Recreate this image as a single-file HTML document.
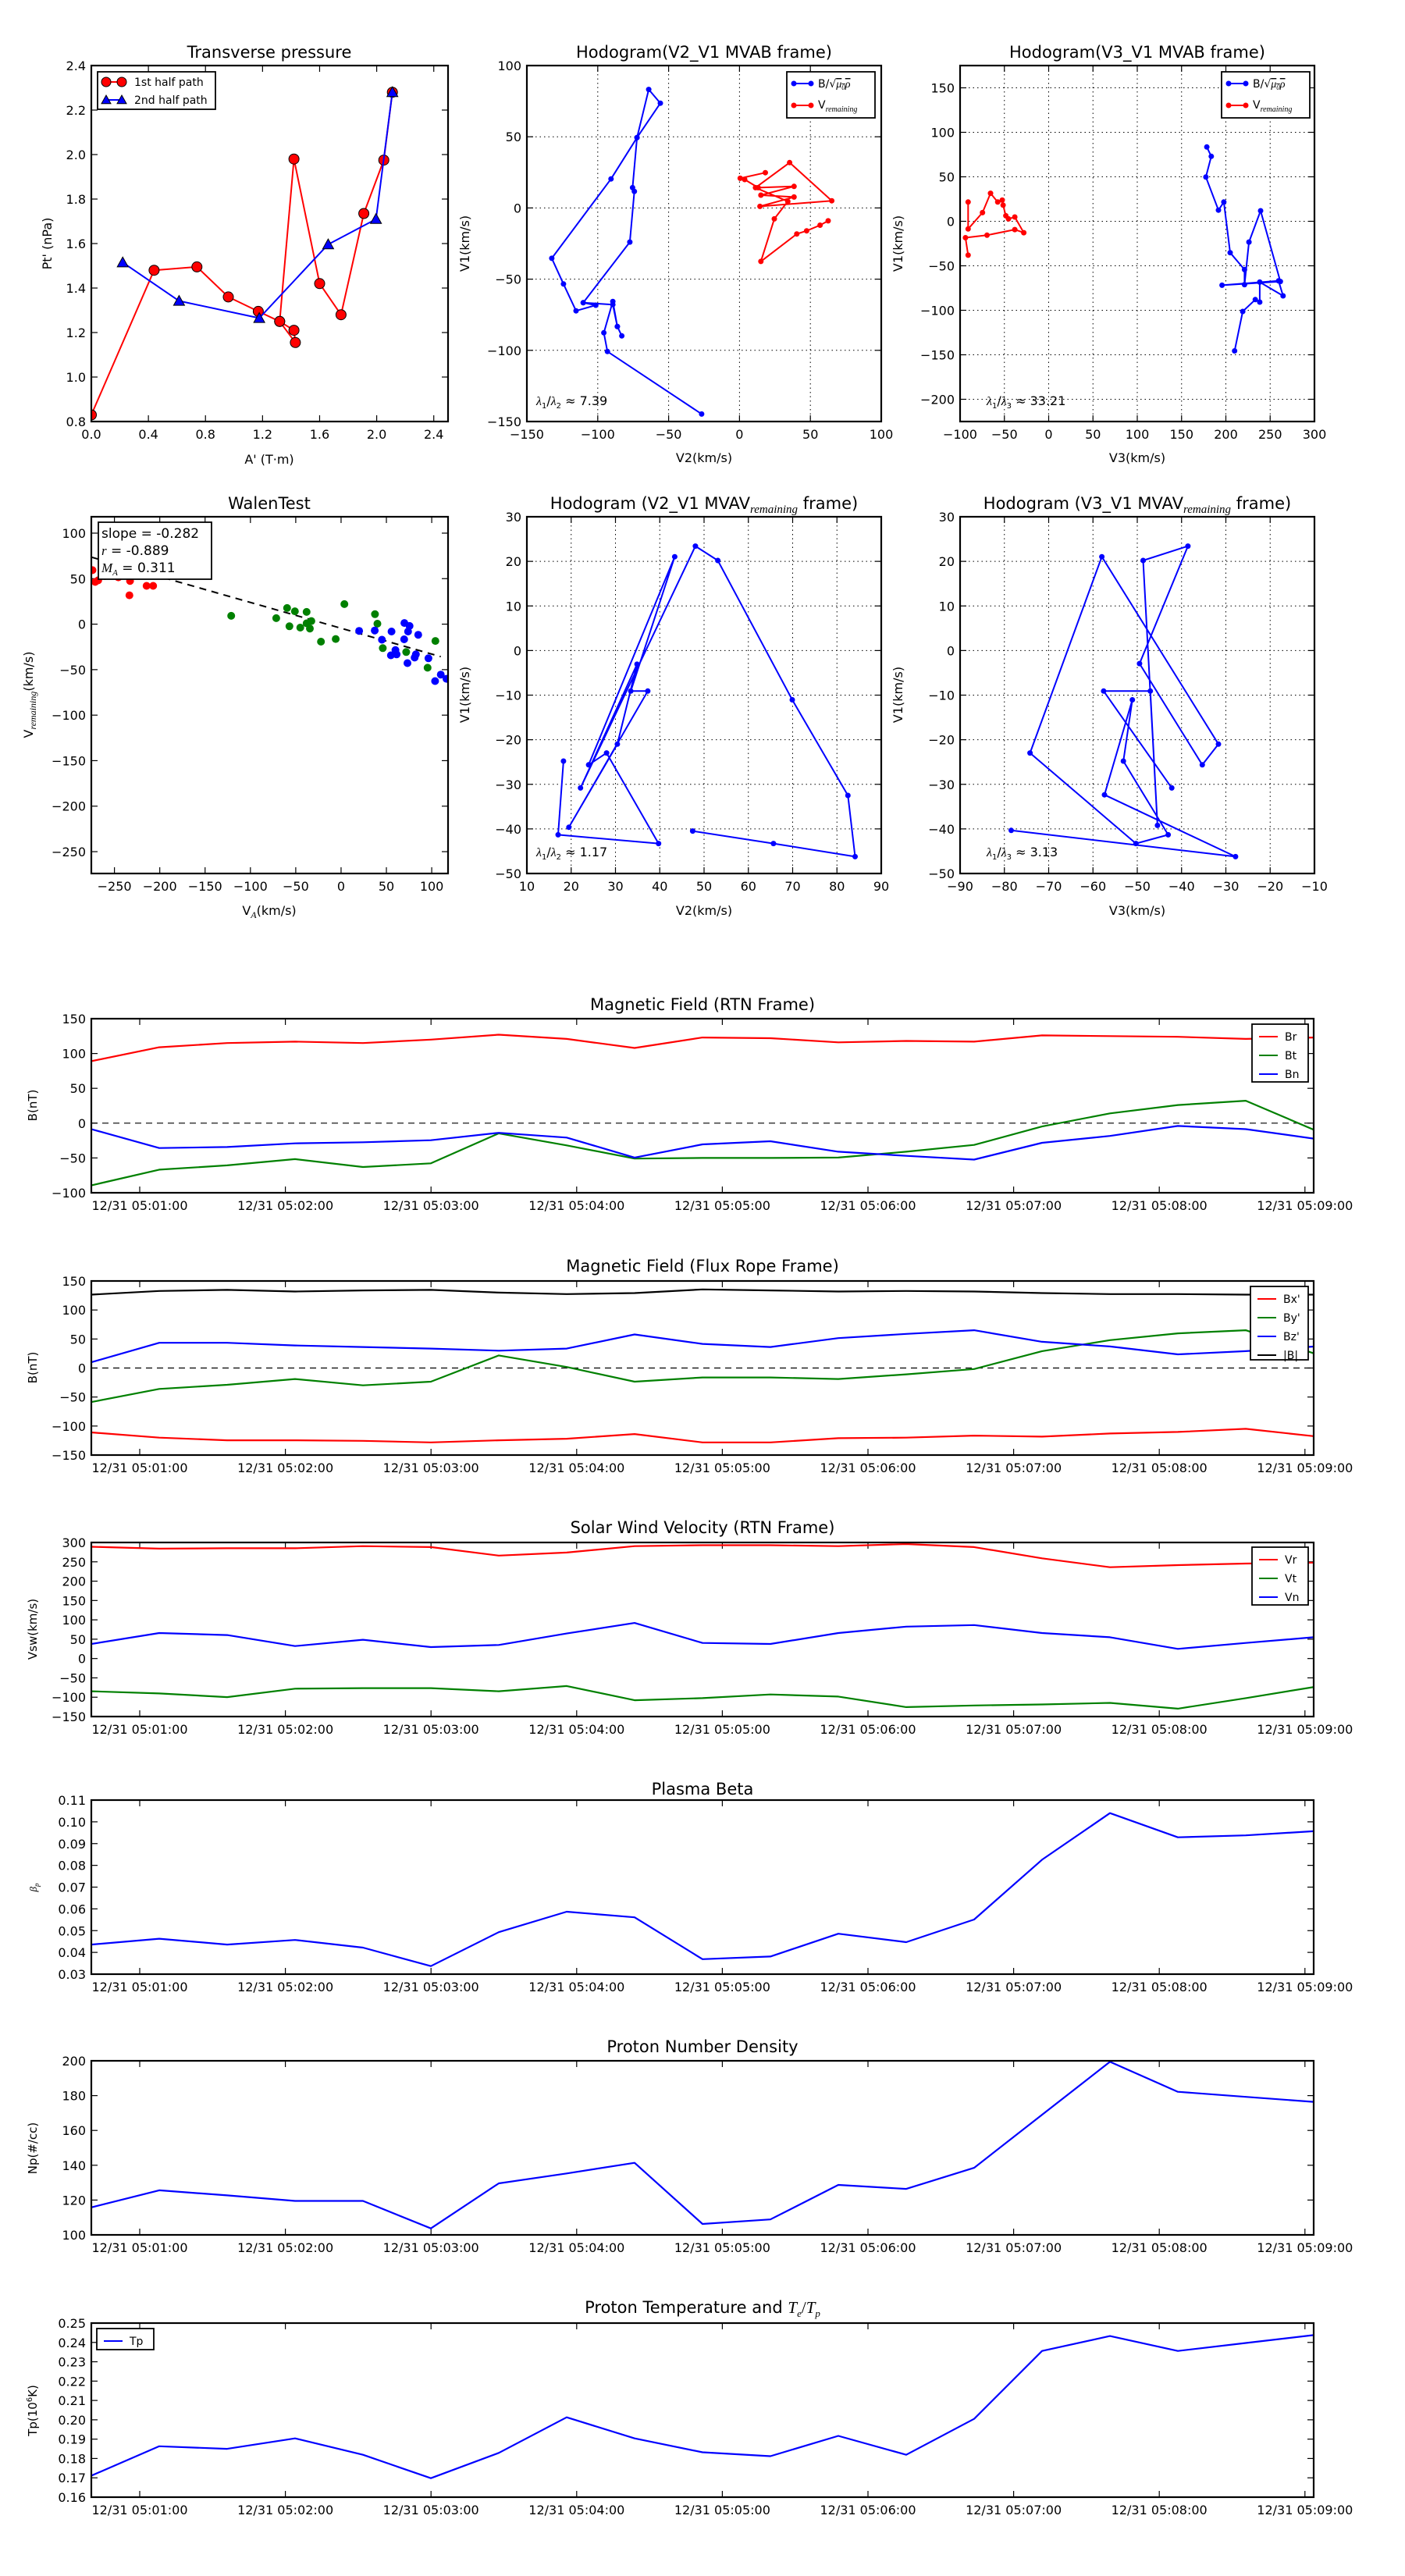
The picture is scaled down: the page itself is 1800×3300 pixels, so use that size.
<!DOCTYPE html>
<html><head><meta charset="utf-8">
<style>html,body{margin:0;padding:0;background:#fff;}svg{display:block;}</style>
</head><body>
<svg id="s" xmlns="http://www.w3.org/2000/svg" width="1800" height="3300" viewBox="0 0 1800 3300" font-family="DejaVu Sans, Liberation Sans, sans-serif">
<rect width="1800" height="3300" fill="#fff"/>
<g font-size="21" text-anchor="middle" fill="#000">
<text x="345" y="74">Transverse pressure</text>
<text x="902" y="74">Hodogram(V2_V1 MVAB frame)</text>
<text x="1457" y="74">Hodogram(V3_V1 MVAB frame)</text>
<text x="345" y="652">WalenTest</text>
<text x="902" y="652">Hodogram (V2_V1 MVAV<tspan font-family="Liberation Serif" font-style="italic" font-size="15" dy="5">remaining</tspan><tspan dy="-5"> frame)</tspan></text>
<text x="1457" y="652">Hodogram (V3_V1 MVAV<tspan font-family="Liberation Serif" font-style="italic" font-size="15" dy="5">remaining</tspan><tspan dy="-5"> frame)</tspan></text>
<text x="900" y="1294">Magnetic Field (RTN Frame)</text>
<text x="900" y="1629">Magnetic Field (Flux Rope Frame)</text>
<text x="900" y="1964">Solar Wind Velocity (RTN Frame)</text>
<text x="900" y="2299">Plasma Beta</text>
<text x="900" y="2629">Proton Number Density</text>
<text x="900" y="2963">Proton Temperature and <tspan font-family="Liberation Serif" font-style="italic">T</tspan><tspan font-family="Liberation Serif" font-style="italic" font-size="13" dy="5">e</tspan><tspan font-family="Liberation Serif" dy="-5">/</tspan><tspan font-family="Liberation Serif" font-style="italic">T</tspan><tspan font-family="Liberation Serif" font-style="italic" font-size="13" dy="5">p</tspan></text>
</g>
<g font-size="16" text-anchor="middle" fill="#000">
<text x="345" y="594">A' (T·m)</text>
<text x="902" y="592">V2(km/s)</text>
<text x="1457" y="592">V3(km/s)</text>
<text x="345" y="1172">V<tspan font-family="Liberation Serif" font-style="italic" font-size="12" dy="4">A</tspan><tspan dy="-4">(km/s)</tspan></text>
<text x="902" y="1172">V2(km/s)</text>
<text x="1457" y="1172">V3(km/s)</text>
<text transform="translate(66,312) rotate(-90)">Pt' (nPa)</text>
<text transform="translate(601,312) rotate(-90)">V1(km/s)</text>
<text transform="translate(1156,312) rotate(-90)">V1(km/s)</text>
<text transform="translate(42,890) rotate(-90)">V<tspan font-family="Liberation Serif" font-style="italic" font-size="12" dy="4">remaining</tspan><tspan dy="-4">(km/s)</tspan></text>
<text transform="translate(601,890) rotate(-90)">V1(km/s)</text>
<text transform="translate(1156,890) rotate(-90)">V1(km/s)</text>
<text font-size="15" transform="translate(47,1416) rotate(-90)">B(nT)</text>
<text font-size="15" transform="translate(47,1752) rotate(-90)">B(nT)</text>
<text font-size="15" transform="translate(47,2087) rotate(-90)">Vsw(km/s)</text>
<text font-size="13" font-family="Liberation Serif" font-style="italic" transform="translate(47,2418) rotate(-90)">β<tspan font-size="9" dy="3">p</tspan></text>
<text font-size="15" transform="translate(47,2752) rotate(-90)">Np(#/cc)</text>
<text font-size="15" transform="translate(47,3088) rotate(-90)">Tp(10<tspan font-size="10" dy="-6">6</tspan><tspan dy="6">K)</tspan></text>
</g>
<g id="dyn"></g>
</svg>
<script>
(function(){
var out=[];
function P(a){return a.map(function(p){return p[0].toFixed(1)+','+p[1].toFixed(1);}).join(' ');}
function pl(pts,c,w,dash){out.push('<polyline points="'+P(pts)+'" fill="none" stroke="'+c+'" stroke-width="'+(w||2)+'"'+(dash?' stroke-dasharray="'+dash+'"':'')+' stroke-linejoin="round"/>');}
function ci(x,y,r,c,st){out.push('<circle cx="'+x.toFixed(1)+'" cy="'+y.toFixed(1)+'" r="'+r+'" fill="'+c+'"'+(st?' stroke="#000" stroke-width="1"':'')+'/>');}
function tri(x,y,r,c){out.push('<polygon points="'+x+','+(y-r)+' '+(x-r)+','+(y+r*0.8)+' '+(x+r)+','+(y+r*0.8)+'" fill="'+c+'" stroke="#000" stroke-width="1"/>');}
function tx(x,y,s,o){o=o||{};out.push('<text x="'+x+'" y="'+y+'" font-size="'+(o.fs||16)+'" text-anchor="'+(o.a||'middle')+'"'+(o.extra||'')+'>'+s+'</text>');}
function fmtN(v,d){var s=Math.abs(v).toFixed(d);return (v<-1e-9?'\u2212':'')+s;}
function ax(o){
 var X=function(v){return o.x+(v-o.xr[0])/(o.xr[1]-o.xr[0])*o.w;};
 var Y=function(v){return o.y+o.h-(v-o.yr[0])/(o.yr[1]-o.yr[0])*o.h;};
 var L=8;
 (o.xt||[]).forEach(function(v){var x=X(v);
  if(o.grid)out.push('<line x1="'+x+'" y1="'+o.y+'" x2="'+x+'" y2="'+(o.y+o.h)+'" stroke="#000" stroke-width="1" stroke-dasharray="1.5,4"/>');
  out.push('<line x1="'+x+'" y1="'+(o.y+o.h)+'" x2="'+x+'" y2="'+(o.y+o.h-L)+'" stroke="#000" stroke-width="1.2"/><line x1="'+x+'" y1="'+o.y+'" x2="'+x+'" y2="'+(o.y+L)+'" stroke="#000" stroke-width="1.2"/>');
  tx(x,o.y+o.h+22,o.xf?o.xf(v):fmtN(v,o.xd||0));});
 (o.yt||[]).forEach(function(v){var y=Y(v);
  if(o.grid)out.push('<line x1="'+o.x+'" y1="'+y+'" x2="'+(o.x+o.w)+'" y2="'+y+'" stroke="#000" stroke-width="1" stroke-dasharray="1.5,4"/>');
  out.push('<line x1="'+o.x+'" y1="'+y+'" x2="'+(o.x+L)+'" y2="'+y+'" stroke="#000" stroke-width="1.2"/><line x1="'+(o.x+o.w)+'" y1="'+y+'" x2="'+(o.x+o.w-L)+'" y2="'+y+'" stroke="#000" stroke-width="1.2"/>');
  tx(o.x-7,y+6,fmtN(v,o.yd||0),{a:'end'});});
 return {X:X,Y:Y};
}
function frame(o){out.push('<rect x="'+o.x+'" y="'+o.y+'" width="'+o.w+'" height="'+o.h+'" fill="none" stroke="#000" stroke-width="2.2"/>');}
function rng(a,b,s){var r=[];for(var v=a;v<=b+1e-9;v+=s)r.push(Math.round(v*1000)/1000);return r;}
function clip(id,o){out.push('<clipPath id="'+id+'"><rect x="'+o.x+'" y="'+o.y+'" width="'+o.w+'" height="'+o.h+'"/></clipPath>');}

var o1={x:117,y:84,w:457,h:456,xr:[0,2.5],yr:[0.8,2.4],xt:rng(0,2.4,0.4),yt:rng(0.8,2.4,0.2),xd:1,yd:1};
var a1=ax(o1);
var red=[[0,0.83],[0.44,1.48],[0.74,1.495],[0.96,1.36],[1.17,1.295],[1.32,1.25],[1.42,1.21],[1.43,1.155],[1.32,1.25],[1.42,1.98],[1.60,1.42],[1.75,1.28],[1.91,1.735],[2.05,1.975],[2.11,2.28]];
var blue=[[0.22,1.515],[0.615,1.342],[1.177,1.265],[1.66,1.596],[1.995,1.71],[2.11,2.28]];
clip('c1',o1);
out.push('<g clip-path="url(#c1)">');
var rp=red.map(function(p){return [a1.X(p[0]),a1.Y(p[1])];});
pl(rp,'#f00',2);
rp.forEach(function(p){ci(p[0],p[1],6.5,'#f00',1);});
var bp=blue.map(function(p){return [a1.X(p[0]),a1.Y(p[1])];});
pl(bp,'#00f',2);
bp.forEach(function(p){tri(p[0],p[1],7,'#00f');});
out.push('</g>');
frame(o1);
out.push('<rect x="125" y="92" width="151" height="48" fill="#fff" stroke="#000" stroke-width="1.8"/>');
pl([[136,105],[156,105]],'#f00',2);ci(136,105,6,'#f00',1);ci(156,105,6,'#f00',1);
tx(172,110,'1st half path',{a:'start',fs:14});
pl([[136,128],[156,128]],'#00f',2);tri(136,128,6,'#00f');tri(156,128,6,'#00f');
tx(172,133,'2nd half path',{a:'start',fs:14});

var fx=1.1495, fy1=1250/1560;
function r1(a){return a.map(function(p){return [p[0]*fx,p[1]*fy1];});}
function r2(a){return a.map(function(p){return [p[0]*fx,662+(p[1]-829)*0.8004];});}
function hodo(o,series,id){clip(id,o);out.push('<g clip-path="url(#'+id+')">');
 series.forEach(function(s){pl(s.p,s.c,2);s.p.forEach(function(q){ci(q[0],q[1],3.5,s.c);});});
 out.push('</g>');frame(o);}
function hleg(x,y){out.push('<rect x="'+x+'" y="'+y+'" width="113" height="59" fill="#fff" stroke="#000" stroke-width="1.8"/>');
 pl([[x+9,y+15],[x+31,y+15]],'#00f',2);ci(x+9,y+15,3.5,'#00f');ci(x+31,y+15,3.5,'#00f');
 tx(x+40,y+20,'B/\u221A<tspan text-decoration="overline" font-family="Liberation Serif" font-style="italic">\u03BC<tspan font-size="9" dy="3">0</tspan><tspan dy="-3">\u03C1</tspan></tspan>',{a:'start',fs:14});
 pl([[x+9,y+43],[x+31,y+43]],'#f00',2);ci(x+9,y+43,3.5,'#f00');ci(x+31,y+43,3.5,'#f00');
 tx(x+40,y+47,'V<tspan font-family="Liberation Serif" font-style="italic" font-size="10" dy="4">remaining</tspan>',{a:'start',fs:14});}
function lam(x,y,a,b,v){tx(x,y,'<tspan font-family="Liberation Serif" font-style="italic">\u03BB</tspan><tspan font-size="10" dy="4">'+a+'</tspan><tspan dy="-4">/</tspan><tspan font-family="Liberation Serif" font-style="italic">\u03BB</tspan><tspan font-size="10" dy="4">'+b+'</tspan><tspan dy="-4"> \u2248 '+v+'</tspan>',{a:'start',fs:16});}

var o2={x:675,y:84,w:454,h:456,xr:[-150,100],yr:[-150,100],xt:rng(-150,100,50),yt:rng(-150,100,50),grid:1};
ax(o2);
hodo(o2,[
{c:'#00f',p:r1([[782,662],[677,562],[673,532],[683,482],[688,522],[693,537],[688,522],[683,487],[650,484],[664,488],[642,497],[628,454],[615,413],[681,286],[710,220],[723,143],[736,165],[710,220],[705,300],[707,306],[702,387],[650,484]])},
{c:'#f00',p:r1([[853,276],[825,285],[830,287],[845,300],[885,298],[848,312],[885,315],[847,330],[927,321],[880,260],[842,300],[878,322],[863,350],[848,418],[888,374],[899,369],[914,360],[923,353]])}
],'c2');
hleg(1008,92);
lam(687,519,1,2,'7.39');

var o3={x:1230,y:84,w:454,h:456,xr:[-100,300],yr:[-225,175],xt:rng(-100,300,50),yt:rng(-200,150,50),grid:1};
ax(o3);
hodo(o3,[
{c:'#00f',p:r1([[1345,235],[1350,250],[1344,283],[1358,336],[1364,323],[1371,404],[1387,431],[1387,455],[1392,387],[1405,337],[1427,450],[1362,456],[1425,449],[1430,473],[1404,451],[1404,483],[1399,479],[1385,498],[1376,561]])},
{c:'#f00',p:r1([[1079,408],[1076,380],[1100,376],[1131,367],[1141,372],[1131,347],[1124,350],[1121,345],[1118,328],[1117,320],[1112,323],[1104,309],[1095,340],[1079,366],[1079,323]])}
],'c3');
hleg(1565,92);
lam(1264,519,1,3,'33.21');

var o4={x:117,y:662,w:457,h:457,xr:[-275.5,118],yr:[-274,118],xt:rng(-250,100,50),yt:rng(-250,100,50)};
var a4=ax(o4);
clip('c4',o4);out.push('<g clip-path="url(#c4)">');
function w4(a){return a.map(function(p){return [117+(p[0]-305)*0.3846,600+p[1]*0.418];});}
pl(w4([[305,272],[1469,577]]),'#000',2,'9,7');
w4([[309,312],[318,348],[328,343],[395,334],[434,345],[432,389],[489,360],[511,360],[350,330],[380,325]]).forEach(function(p){ci(p[0],p[1],5,'#f00');});
w4([[771,452],[921,459],[957,428],[965,484],[983,438],[1001,488],[1022,440],[1022,475],[1038,468],[1033,491],[1070,531],[1119,523],[1148,416],[1250,447],[1258,476],[1276,551],[1354,563],[1425,611],[1451,529]]).forEach(function(p){ci(p[0],p[1],5,'#008000');});
w4([[1197,498],[1249,497],[1273,525],[1305,500],[1303,573],[1318,557],[1322,570],[1348,474],[1365,483],[1360,500],[1347,524],[1394,510],[1358,597],[1382,580],[1386,570],[1428,582],[1450,652],[1469,632],[1488,645]]).forEach(function(p){ci(p[0],p[1],5,'#00f');});
out.push('</g>');frame(o4);
out.push('<rect x="126" y="669" width="145" height="73" fill="#fff" stroke="#000" stroke-width="1.8"/>');
tx(130,689,'slope = -0.282',{a:'start',fs:17});
tx(130,711,'<tspan font-family="Liberation Serif" font-style="italic">r</tspan> = -0.889',{a:'start',fs:17});
tx(130,733,'<tspan font-family="Liberation Serif" font-style="italic">M<tspan font-size="11" dy="4">A</tspan></tspan><tspan dy="-4"> = 0.311</tspan>',{a:'start',fs:17});

var o5={x:675,y:662,w:454,h:457,xr:[10,90],yr:[-50,30],xt:rng(10,90,10),yt:rng(-50,30,10),grid:1};
ax(o5);
hodo(o5,[{c:'#00f',p:r2([[628,1220],[622,1338],[734,1352],[676,1207],[656,1226],[752,893],[703,1108],[722,1108],[634,1326],[688,1193],[710,1065],[647,1263],[775,876],[800,899],[883,1122],[945,1275],[953,1373],[862,1352],[772,1332]])}],'c5');
lam(687,1097,1,2,'1.17');

var o6={x:1230,y:662,w:454,h:457,xr:[-90,-10],yr:[-50,30],xt:rng(-90,-10,10),yt:rng(-50,30,10),grid:1};
ax(o6);
hodo(o6,[{c:'#00f',p:r2([[1306,1263],[1230,1108],[1282,1108],[1290,1323],[1274,899],[1324,876],[1270,1064],[1340,1226],[1358,1193],[1228,893],[1148,1207],[1266,1352],[1302,1338],[1252,1220],[1262,1122],[1231,1274],[1377,1373],[1127,1331]])}],'c6');
lam(1264,1097,1,3,'3.13');

var TL=117,TW=1566,TR=TL+TW;
function ts(top,yr,yt,yd,series,zero,legend,id){
 var o={x:TL,y:top,w:TW,h:223,yr:yr,xr:[0,1]};
 var Y=function(v){return o.y+o.h-(v-yr[0])/(yr[1]-yr[0])*o.h;};
 var L=8;
 for(var k=0;k<9;k++){var x=179+186.6*k;
  out.push('<line x1="'+x+'" y1="'+(top+223)+'" x2="'+x+'" y2="'+(top+223-L)+'" stroke="#000" stroke-width="1.2"/><line x1="'+x+'" y1="'+top+'" x2="'+x+'" y2="'+(top+L)+'" stroke="#000" stroke-width="1.2"/>');
  tx(x,top+223+22,'12/31 05:0'+(k+1)+':00');}
 yt.forEach(function(v){var y=Y(v);
  out.push('<line x1="'+TL+'" y1="'+y+'" x2="'+(TL+L)+'" y2="'+y+'" stroke="#000" stroke-width="1.2"/><line x1="'+TR+'" y1="'+y+'" x2="'+(TR-L)+'" y2="'+y+'" stroke="#000" stroke-width="1.2"/>');
  tx(110,y+6,fmtN(v,yd),{a:'end'});});
 clip(id,o);out.push('<g clip-path="url(#'+id+')">');
 if(zero)pl([[TL,Y(0)],[TR,Y(0)]],'#000',1.2,'8,6');
 series.forEach(function(s){pl(s.d.map(function(v,i){return [TL+i*TW/18,Y(v)];}),s.c,2.2);});
 out.push('</g>');frame(o);
 if(legend){var lx=legend.x,ly=legend.y,n=series.length;
  out.push('<rect x="'+lx+'" y="'+ly+'" width="'+legend.w+'" height="'+(n*24+(legend.pad||8))+'" fill="#fff" stroke="#000" stroke-width="1.8"/>');
  series.forEach(function(s,i){var yy=ly+16+i*24;pl([[lx+9,yy],[lx+33,yy]],s.c,2);tx(lx+42,yy+5,s.n,{a:'start',fs:14});});}
}
ts(1305,[-100,150],rng(-100,150,50),0,[
{n:'Br',c:'#f00',d:[89,109,115,117,115,120,127,121,108,123,122,116,118,117,126,125,124,121,123]},
{n:'Bt',c:'#008000',d:[-89.4,-66.8,-60.7,-51.7,-63,-57.7,-14.7,-32,-50.9,-50,-50,-49.4,-41,-31.3,-4.8,14,26,32.2,-9.4]},
{n:'Bn',c:'#00f',d:[-8.6,-35.8,-34.3,-29,-27.5,-24.5,-13.9,-20.7,-49.4,-30.5,-26,-41,-47,-52.4,-28.2,-18.4,-4,-8.6,-22.2]}
],1,{x:1604,y:1312,w:72,pad:2},'t1');
ts(1641,[-150,150],rng(-150,150,50),0,[
{n:"Bx'",c:'#f00',d:[-111,-120,-124.6,-124.6,-125.5,-128.2,-124.6,-121.9,-113.8,-128.2,-128.2,-121,-120,-116.5,-118.3,-112.9,-110.2,-104.8,-117.4]},
{n:"By'",c:'#008000',d:[-58.7,-36.1,-28.9,-19,-29.8,-23.5,21.7,1.8,-23.5,-16.3,-16.3,-19,-10.9,-1.8,29,48,59.7,65.1,25.3]},
{n:"Bz'",c:'#00f',d:[10,43.4,43.4,38.9,36.2,33.5,29.9,33.5,57.9,41.6,36.2,51.5,58.8,65.1,45.2,37.1,23.5,29,37]},
{n:'|B|',c:'#000',d:[126.5,132.8,134.6,131.9,133.7,134.6,130,127.4,129.2,135.5,133.7,131.9,132.8,131.9,129.2,127.4,127.4,126.5,126.5]}
],1,{x:1602,y:1648,w:74,pad:-2},'t2');
ts(1976,[-150,300],rng(-150,300,50),0,[
{n:'Vr',c:'#f00',d:[289,284,285,285,290.5,288,266,274,290.5,293,293,290.5,296,288,259,236,241.5,245.6,248]},
{n:'Vt',c:'#008000',d:[-84.7,-90.2,-99.7,-78,-76.6,-76.6,-84.7,-71,-107.8,-102.4,-92.9,-98.3,-125.5,-121.4,-118.7,-114.6,-129.6,-102.4,-73.8]},
{n:'Vn',c:'#00f',d:[37.6,66,60.7,32.2,48.5,29.5,35,64.8,92,40.3,37.6,66,82.5,86.6,66,55,25,40.3,55]}
],0,{x:1604,y:1982,w:72,pad:2},'t3');
ts(2306,[0.03,0.11],rng(0.03,0.11,0.01),2,[
{n:'b',c:'#00f',d:[0.0436,0.0463,0.0436,0.0457,0.0422,0.0337,0.0493,0.0587,0.0561,0.0369,0.0381,0.0486,0.0447,0.0551,0.0826,0.104,0.0929,0.0938,0.0957]}
],0,null,'t4');
ts(2640,[100,200],rng(100,200,20),0,[
{n:'n',c:'#00f',d:[115.8,125.6,122.7,119.5,119.5,103.7,129.6,135.3,141.4,106.3,108.9,128.7,126.4,138.5,169,199.4,182.2,179.3,176.4]}
],0,null,'t5');
ts(2976,[0.16,0.25],rng(0.16,0.25,0.01),2,[
{n:'Tp',c:'#00f',d:[0.1711,0.1863,0.185,0.1904,0.1819,0.1698,0.1829,0.2013,0.1904,0.1832,0.1812,0.1917,0.1819,0.2005,0.2356,0.2433,0.2356,0.2397,0.2438]}
],0,{x:124,y:2983,w:73,pad:3},'t6');

document.getElementById('dyn').innerHTML=out.join('');
})();
</script>
</body></html>
